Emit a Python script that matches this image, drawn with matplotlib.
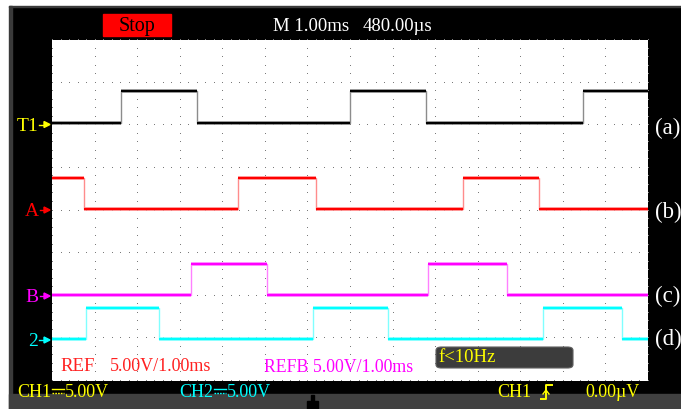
import numpy as np
import matplotlib
matplotlib.use("Agg")
import matplotlib.pyplot as plt
from matplotlib.patches import Rectangle, FancyBboxPatch, Polygon
from matplotlib.lines import Line2D

W, H = 681, 410

# edge times (ms, from left edge of screen) and low/high levels (divisions from bottom)
t1_edges = [1.61, 3.41, 7.00, 8.79, 12.47]
t1_levels = (6.06, 6.80)
a_edges = [0.74, 4.38, 6.19, 9.66, 11.45]
a_levels = (4.03, 4.77)
b_edges = [3.26, 5.06, 8.84, 10.68]
b_levels = (2.02, 2.74)
ch2_edges = [0.79, 2.52, 6.14, 7.90, 11.53, 13.40]
ch2_levels = (0.98, 1.71)

n_xdiv = 14
n_ydiv = 8

plt.rcParams['font.family'] = ['Liberation Serif', 'DejaVu Serif']


def px(x, y):
    return x / W, 1 - y / H


fig = plt.figure(figsize=(W / 100, H / 100), dpi=100)
fig.patch.set_facecolor('black')
renderer = fig.canvas.get_renderer()

# frame around the screen
fig.patches.append(Rectangle((0, 1 - 7 / H), 1, 7 / H, transform=fig.transFigure,
                             color='white', zorder=0))
fig.patches.append(Rectangle((0, 0), 9 / W, 1, transform=fig.transFigure,
                             color='white', zorder=0))
fig.patches.append(Rectangle((9 / W, 1 - 8 / H), 1, 1.5 / H, transform=fig.transFigure,
                             color='#3a3a3a', zorder=0))
fig.patches.append(Rectangle((9 / W, 0), 3 / W, 1 - 7 / H, transform=fig.transFigure,
                             color='#3a3a3a', zorder=0))
fig.patches.append(Rectangle((9 / W, 0), 1, 15 / H, transform=fig.transFigure,
                             color='#404040', zorder=0))

ax = fig.add_axes([52 / W, (H - 382) / H, 596 / W, 341 / H])
ax.set_facecolor('white')
ax.set_xlim(0, n_xdiv)
ax.set_ylim(0, n_ydiv)
for s in ax.spines.values():
    s.set_visible(False)
ax.set_xticks([])
ax.set_yticks([])

# dotted graticule
sub = np.arange(0, n_ydiv + 0.001, 0.2)
for i in range(n_xdiv + 1):
    ax.plot(np.full_like(sub, i), sub, ',', color='#7a7a7a', clip_on=False)
sub = np.arange(0, n_xdiv + 0.001, 0.2)
for j in range(n_ydiv + 1):
    ax.plot(sub, np.full_like(sub, j), ',', color='#7a7a7a', clip_on=False)


def trace(edges, levels, start, color, light):
    bounds = [0] + list(edges) + [n_xdiv]
    lv = [levels[(k + start) % 2] for k in range(len(bounds) - 1)]
    xs = np.repeat(bounds, 2)[1:-1]
    ys = np.repeat(lv, 2)
    ax.plot(xs, ys, color=light, lw=1.0, zorder=3)
    ax.hlines(lv, bounds[:-1], bounds[1:], color=light, lw=2.6, zorder=3)
    ax.hlines(lv, bounds[:-1], bounds[1:], color=color, lw=1.5, zorder=4)


trace(t1_edges, t1_levels, 0, 'black', '#8c8c8c')
trace(a_edges, a_levels, 1, '#ff0000', '#ff8c8c')
trace(b_edges, b_levels, 0, '#ff00ff', '#ff80ff')
trace(ch2_edges, ch2_levels, 0, '#00ffff', '#80ffff')

# top bar
fig.patches.append(Rectangle(px(103, 37), 68 / W, 22 / H, transform=fig.transFigure,
                             color='#ff0000', zorder=2))
fig.text(*px(137, 26.5), 'Stop', color='black', fontsize=14.5, ha='center', va='center')
fig.text(*px(273, 26.5), 'M 1.00ms', color='white', fontsize=13.5, ha='left', va='center')
fig.text(*px(363, 26.5), '480.00\u00b5s', color='white', fontsize=13.5, ha='left', va='center')


# channel markers
def marker(name, y, color, x_text):
    fig.text(*px(x_text, y + 1), name, color=color, fontsize=14, ha='right', va='center')
    fig.lines.append(Line2D([(x_text + 1) / W, 46 / W], [1 - y / H] * 2,
                            transform=fig.transFigure, color=color, lw=1.0))
    fig.patches.append(Polygon([px(44, y - 3), px(50, y), px(44, y + 3)],
                               closed=True, transform=fig.transFigure, color=color))


marker('T1', 125.5, '#ffff00', 38)
marker('A', 211, '#ff0000', 39)
marker('B', 297, '#ff00ff', 39)
marker('2', 341, '#00ffff', 38)

for lab, y in [('(a)', 128), ('(b)', 212), ('(c)', 296), ('(d)', 339)]:
    fig.text(*px(655, y), lab, color='white', fontsize=16.5, ha='left', va='center')

# reference info inside the screen
fig.text(*px(60, 367), 'REF', color='#ff2020', fontsize=13.5, ha='left', va='center')
fig.text(*px(110, 367), '5.00V/1.00ms', color='#ff2020', fontsize=13, ha='left', va='center')
fig.text(*px(264, 368), 'REFB 5.00V/1.00ms', color='#ff00ff', fontsize=12.8,
         ha='left', va='center')
fig.patches.append(FancyBboxPatch(px(436, 369), 137 / W, 21 / H, transform=fig.transFigure,
                                  boxstyle='round,pad=0,rounding_size=0.008',
                                  facecolor='#3c3c3c', edgecolor='#606060', lw=0.8, zorder=5))
fig.text(*px(438, 358), 'f<10Hz', color='#ffff00', fontsize=13.5, ha='left', va='center',
         zorder=6)


# bottom status bar
def dc_text(x0, name, val, color):
    t = fig.text(*px(x0, 393), name, color=color, fontsize=13, ha='left', va='center')
    bb = t.get_window_extent(renderer)
    xs = bb.x1 + 1
    fig.lines.append(Line2D([xs / W, (xs + 12) / W], [1 - 390 / H] * 2,
                            transform=fig.transFigure, color=color, lw=1.0))
    fig.lines.append(Line2D([xs / W, (xs + 12) / W], [1 - 394 / H] * 2,
                            transform=fig.transFigure, color=color, lw=1.0,
                            ls=(0, (1.2, 0.8))))
    fig.text(*px(xs + 13, 393), val, color=color, fontsize=13, ha='left', va='center')


dc_text(17, 'CH1', '5.00V', '#ffff00')
dc_text(179, 'CH2', '5.00V', '#00ffff')

fig.text(*px(497, 393), 'CH1', color='#ffff00', fontsize=13, ha='left', va='center')
fig.lines.append(Line2D(np.array([541, 546, 546, 552]) / W,
                        1 - np.array([400, 400, 386, 386]) / H,
                        transform=fig.transFigure, color='#ffff00', lw=1.4))
fig.lines.append(Line2D(np.array([543, 546, 549]) / W, 1 - np.array([395, 391, 395]) / H,
                        transform=fig.transFigure, color='#ffff00', lw=1.0))
fig.text(*px(585, 393), '0.00\u00b5V', color='#ffff00', fontsize=13, ha='left', va='center')

# ground marker
fig.patches.append(Polygon(np.column_stack([np.array([311, 314, 314, 318, 318, 307, 307, 311]) / W,
                                            1 - np.array([396, 396, 402, 402, 410, 410, 402, 402]) / H]),
                           transform=fig.transFigure, color='black', zorder=3))

fig.savefig('out.png', dpi=100, facecolor=fig.get_facecolor())
